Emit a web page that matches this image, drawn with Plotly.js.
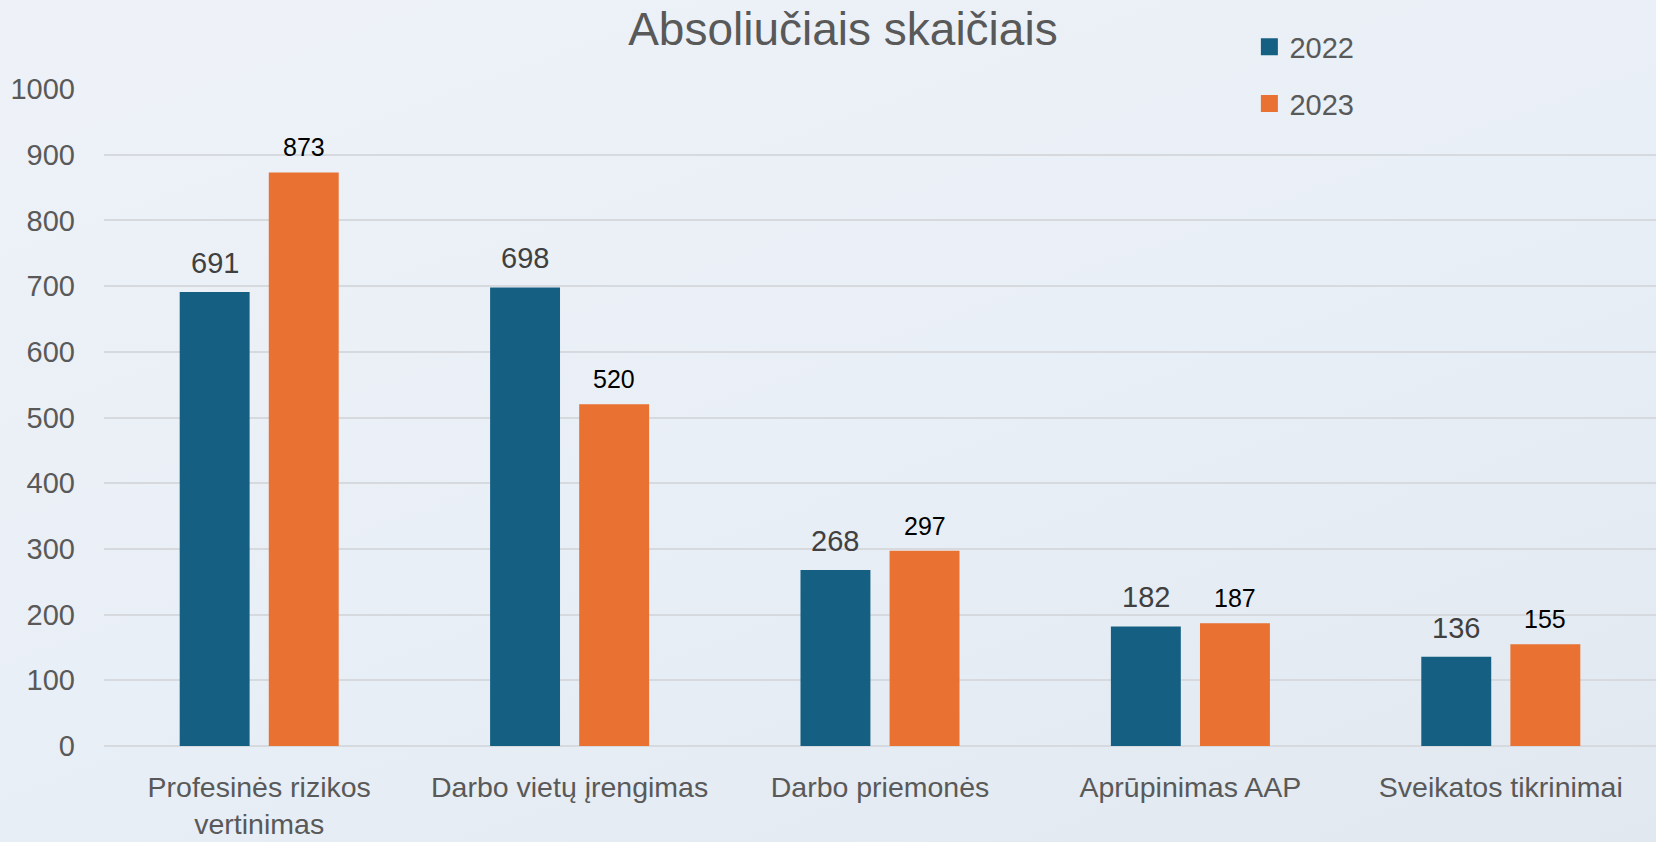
<!DOCTYPE html>
<html>
<head>
<meta charset="utf-8">
<script src="https://cdn.plot.ly/plotly-3.0.1.min.js"></script>
<style>
  html, body { margin: 0; padding: 0; }
  body { width: 1656px; height: 842px; background: linear-gradient(160deg, #eef2f8 0%, #e9eff6 50%, #e1e8ef 100%); }
  #chart { width: 1656px; height: 842px; }
</style>
</head>
<body>
<div id="chart"></div>
<script>
const categories = ["Profesinės rizikos vertinimas", "Darbo vietų įrengimas", "Darbo priemonės", "Aprūpinimas AAP", "Sveikatos tikrinimai"];
const tickLabels = ["Profesinės rizikos<br>vertinimas", "Darbo vietų įrengimas", "Darbo priemonės", "Aprūpinimas AAP", "Sveikatos tikrinimai"];
const values2022 = [691, 698, 268, 182, 136];
const values2023 = [873, 520, 297, 187, 155];
const seriesNames = ["2022", "2023"];
const yTicks = [0, 100, 200, 300, 400, 500, 600, 700, 800, 900, 1000];

const FONT = "Liberation Sans, Arial, sans-serif";
const BLUE = "#156082", ORANGE = "#E97132";

const traces = [
  { type: "bar", name: seriesNames[0], x: categories, y: values2022, legendgroup: "a",
    marker: { color: BLUE, line: { color: BLUE, width: 0 } }, hoverinfo: "y" },
  { type: "bar", name: seriesNames[1], x: categories, y: values2023, legendgroup: "b",
    marker: { color: ORANGE, line: { color: ORANGE, width: 0 } }, hoverinfo: "y" }
];

const annotations = [];
categories.forEach((c, i) => {
  annotations.push({ x: c, y: values2022[i], xref: "x", yref: "y", text: String(values2022[i]),
    showarrow: false, xshift: -44.6, yshift: 29, yanchor: "middle",
    font: { family: FONT, size: 29, color: "#404040" } });
  annotations.push({ x: c, y: values2023[i], xref: "x", yref: "y", text: String(values2023[i]),
    showarrow: false, xshift: 44.6, yshift: 25, yanchor: "middle",
    font: { family: FONT, size: 25, color: "#000000" } });
});

const layout = {
  width: 1656, height: 842,
  paper_bgcolor: "rgba(0,0,0,0)", plot_bgcolor: "rgba(0,0,0,0)",
  margin: { l: 104, r: 0, t: 89, b: 96, pad: 0 },
  title: { text: "Absoliučiais skaičiais", x: 0.509, xref: "container", xanchor: "center",
    y: 0.966, yref: "container", yanchor: "middle",
    font: { family: FONT, size: 46, color: "#595959" } },
  barmode: "group", bargap: 0.426, bargroupgap: 0.215,
  xaxis: { type: "category", tickmode: "array", tickvals: categories, ticktext: tickLabels,
    showgrid: false, zeroline: false, showline: false, ticks: "",
    ticklabelstandoff: 21,
    tickfont: { family: FONT, size: 28.5, color: "#595959" } },
  yaxis: { range: [0, 1000], tickmode: "array", tickvals: yTicks, ticktext: yTicks.map(String),
    showgrid: true, gridcolor: "#d6d9dd", gridwidth: 2, zeroline: true, zerolinecolor: "#d6d9dd", zerolinewidth: 2,
    showline: false, ticks: "", ticklabelstandoff: 28,
    tickfont: { family: FONT, size: 29, color: "#595959" } },
  showlegend: true,
  legend: { x: 0.738, xanchor: "left", y: 1.103, yanchor: "top", orientation: "v",
    bgcolor: "rgba(0,0,0,0)", tracegroupgap: 16, traceorder: "grouped",
    font: { family: FONT, size: 29, color: "#595959" } },
  annotations: annotations
};

Plotly.newPlot("chart", traces, layout, { displayModeBar: false, staticPlot: true }).then(() => {
  document.querySelectorAll("#chart .legendpoints path").forEach(p => {
    p.setAttribute("d", "M8.5,8.5H-8.5V-8.5H8.5Z");
  });
});
</script>
</body>
</html>
